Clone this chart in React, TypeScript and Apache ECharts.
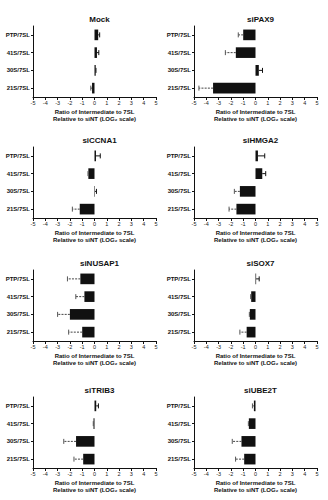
import React, { useEffect, useRef } from "react";
import * as echarts from "echarts";

const categories = ["PTP/7SL", "41S/7SL", "30S/7SL", "21S/7SL"];
const panelTitles = ["Mock", "siPAX9", "siCCNA1", "siHMGA2", "siNUSAP1", "siSOX7", "siTRIB3", "siUBE2T"];
const xTicks = [-5, 5, 1];

const mockValues = [0.3, 0.2, 0.1, -0.2];
const mockErrors = [0.12, 0.15, 0.02, 0.1];
const pax9Values = [-1.0, -1.6, 0.27, -3.45];
const pax9Errors = [0.4, 0.85, 0.3, 1.15];
const ccna1Values = [0.12, -0.5, 0.04, -1.2];
const ccna1Errors = [0.35, 0.03, 0.12, 0.6];
const hmga2Values = [0.2, 0.55, -1.27, -1.55];
const hmga2Errors = [0.55, 0.28, 0.45, 0.6];
const nusap1Values = [-1.15, -0.82, -2.0, -1.0];
const nusap1Errors = [1.05, 0.7, 1.0, 1.1];
const sox7Values = [0.05, -0.35, -0.46, -0.72];
const sox7Errors = [0.25, 0.04, 0.04, 0.55];
const trib3Values = [0.14, -0.08, -1.5, -0.92];
const trib3Errors = [0.18, 0.02, 1.0, 0.75];
const ube2tValues = [-0.13, -0.54, -1.14, -0.92];
const ube2tErrors = [0.12, 0.04, 0.75, 0.7];

const panelValues = [mockValues, pax9Values, ccna1Values, hmga2Values, nusap1Values, sox7Values, trib3Values, ube2tValues];
const panelErrors = [mockErrors, pax9Errors, ccna1Errors, hmga2Errors, nusap1Errors, sox7Errors, trib3Errors, ube2tErrors];

const axisTitle = "Ratio of Intermediate to 7SL\nRelative to siNT (LOG\u2082 scale)";

const FONT = "'Liberation Sans', Arial, sans-serif";

export default function App() {
  const ref = useRef<HTMLDivElement>(null);
  useEffect(() => {
    if (!ref.current) return;
    const chart = echarts.init(ref.current, null, { renderer: "svg" });
    const colLefts = [33, 194];
    const rowTops = [26, 147, 270, 397];
    const gw = 123;
    const gh = 71;
    const grids: any[] = [];
    const xAxes: any[] = [];
    const yAxes: any[] = [];
    const series: any[] = [];
    const titles: any[] = [];
    panelTitles.forEach((t, i) => {
      const col = i % 2;
      const row = Math.floor(i / 2);
      const left = colLefts[col];
      const top = rowTops[row];
      grids.push({ left, top, width: gw, height: gh, containLabel: false });
      titles.push({
        text: t,
        left: left + gw / 2,
        top: top - 16,
        textAlign: "center",
        textStyle: { fontFamily: FONT, fontSize: 8, fontWeight: "bold", color: "#111" },
      });
      xAxes.push({
        type: "value",
        gridIndex: i,
        min: xTicks[0],
        max: xTicks[1],
        interval: xTicks[2],
        splitLine: { show: false },
        axisLine: { show: true, onZero: false, lineStyle: { color: "#111", width: 1 } },
        axisTick: { show: true, length: 3, lineStyle: { color: "#111" } },
        axisLabel: { fontFamily: FONT, fontSize: 5.5, color: "#222", margin: 3 },
        name: axisTitle,
        nameLocation: "middle",
        nameGap: 11,
        nameTextStyle: { fontFamily: FONT, fontSize: 6, fontWeight: "bold", color: "#111", lineHeight: 7.5, verticalAlign: "top" },
      });
      yAxes.push({
        type: "category",
        gridIndex: i,
        data: categories,
        inverse: true,
        axisLine: { show: true, onZero: false, lineStyle: { color: "#111", width: 1 } },
        axisTick: { show: true, alignWithLabel: true, length: 2, lineStyle: { color: "#111" } },
        axisLabel: { fontFamily: FONT, fontSize: 6, fontWeight: "bold", color: "#111", margin: 3 },
        splitLine: { show: false },
      });
      series.push({
        type: "bar",
        xAxisIndex: i,
        yAxisIndex: i,
        data: panelValues[i],
        barWidth: "60%",
        itemStyle: { color: "#111" },
      });
      series.push({
        type: "custom",
        xAxisIndex: i,
        yAxisIndex: i,
        data: panelValues[i].map((v, k) => [v, k, panelErrors[i][k]]),
        renderItem: (params: any, api: any) => {
          const v = api.value(0);
          const idx = api.value(1);
          const e = api.value(2);
          const neg = v < 0;
          const end = neg ? v - e : v + e;
          const p0 = api.coord([v, idx]);
          const p1 = api.coord([end, idx]);
          const h = 5;
          return {
            type: "group",
            children: [
              {
                type: "line",
                shape: { x1: p0[0], y1: p0[1], x2: p1[0], y2: p1[1] },
                style: { stroke: neg ? "#444" : "#111", lineWidth: 1, lineDash: neg ? [2, 1.2] : null },
              },
              {
                type: "line",
                shape: { x1: p1[0], y1: p1[1] - h / 2, x2: p1[0], y2: p1[1] + h / 2 },
                style: { stroke: neg ? "#555" : "#111", lineWidth: 1 },
              },
            ],
          };
        },
        z: 3,
      });
    });
    chart.setOption({
      animation: false,
      backgroundColor: "#fff",
      title: titles,
      grid: grids,
      xAxis: xAxes,
      yAxis: yAxes,
      series,
    });
    return () => chart.dispose();
  }, []);
  return <div ref={ref} style={{ position: "fixed", left: 0, top: 0, width: 328, height: 500, background: "#fff" }} />;
}
